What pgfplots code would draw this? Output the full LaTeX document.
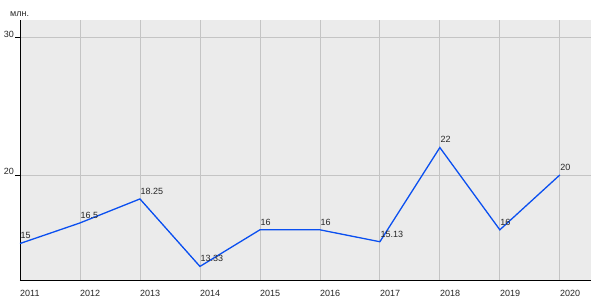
\documentclass[border=0pt]{standalone}
\usepackage{pgfplots}
\pgfplotsset{compat=1.18}
\usepackage{fontspec}
\setmainfont{Liberation Sans}
\definecolor{bg}{HTML}{EBEBEB}
\definecolor{gridc}{HTML}{C4C4C4}
\definecolor{linec}{HTML}{0A4FF0}
\begin{document}
\begin{tikzpicture}[x=1pt,y=1pt]
\path[use as bounding box] (0,0) rectangle (600,300);
\begin{axis}[at={(20pt,20pt)}, anchor=south west, scale only axis,
  width=571pt, height=260pt,
  xmin=2011, xmax=2020.52, ymin=12.34, ymax=31.3,
  axis x line*=bottom, axis y line*=left,
  axis line style={black, line width=0.9pt, -},
  axis background/.style={fill=bg},
  xtick={2011,2012,2013,2014,2015,2016,2017,2018,2019,2020},
  xticklabels={2011,2012,2013,2014,2015,2016,2017,2018,2019,2020},
  ytick={20,30},
  grid=major, major grid style={gridc, line width=0.8pt},
  x tick style={draw=none},
  y tick style={black, line width=0.9pt},
  major tick length=5pt, tick align=outside,
  tick label style={font=\fontsize{9}{10}\selectfont, text=black!85},
  /pgf/number format/assume math mode=true,
  xticklabel style={anchor=north west, inner sep=0pt, yshift=-5pt},
  yticklabel style={anchor=south east, inner sep=0pt, xshift=-1pt},
  clip=false,
  nodes near coords, point meta=explicit symbolic,
  every node near coord/.append style={anchor=south west, inner sep=0pt, yshift=4pt,
    font=\fontsize{9}{10}\selectfont, text=black!85},
]
\addplot[linec, line width=1.3pt, mark=none] table[meta=lab] {
x y lab
2011 15 15
2012 16.5 16.5
2013 18.25 18.25
2014 13.33 13.33
2015 16 16
2016 16 16
2017 15.13 15.13
2018 22 22
2019 16 16
2020 20 20
};
\end{axis}
\node[anchor=base west, inner sep=0pt, font=\fontsize{9}{10}\selectfont, text=black!85] at (10,283) {млн.};
\end{tikzpicture}
\end{document}
